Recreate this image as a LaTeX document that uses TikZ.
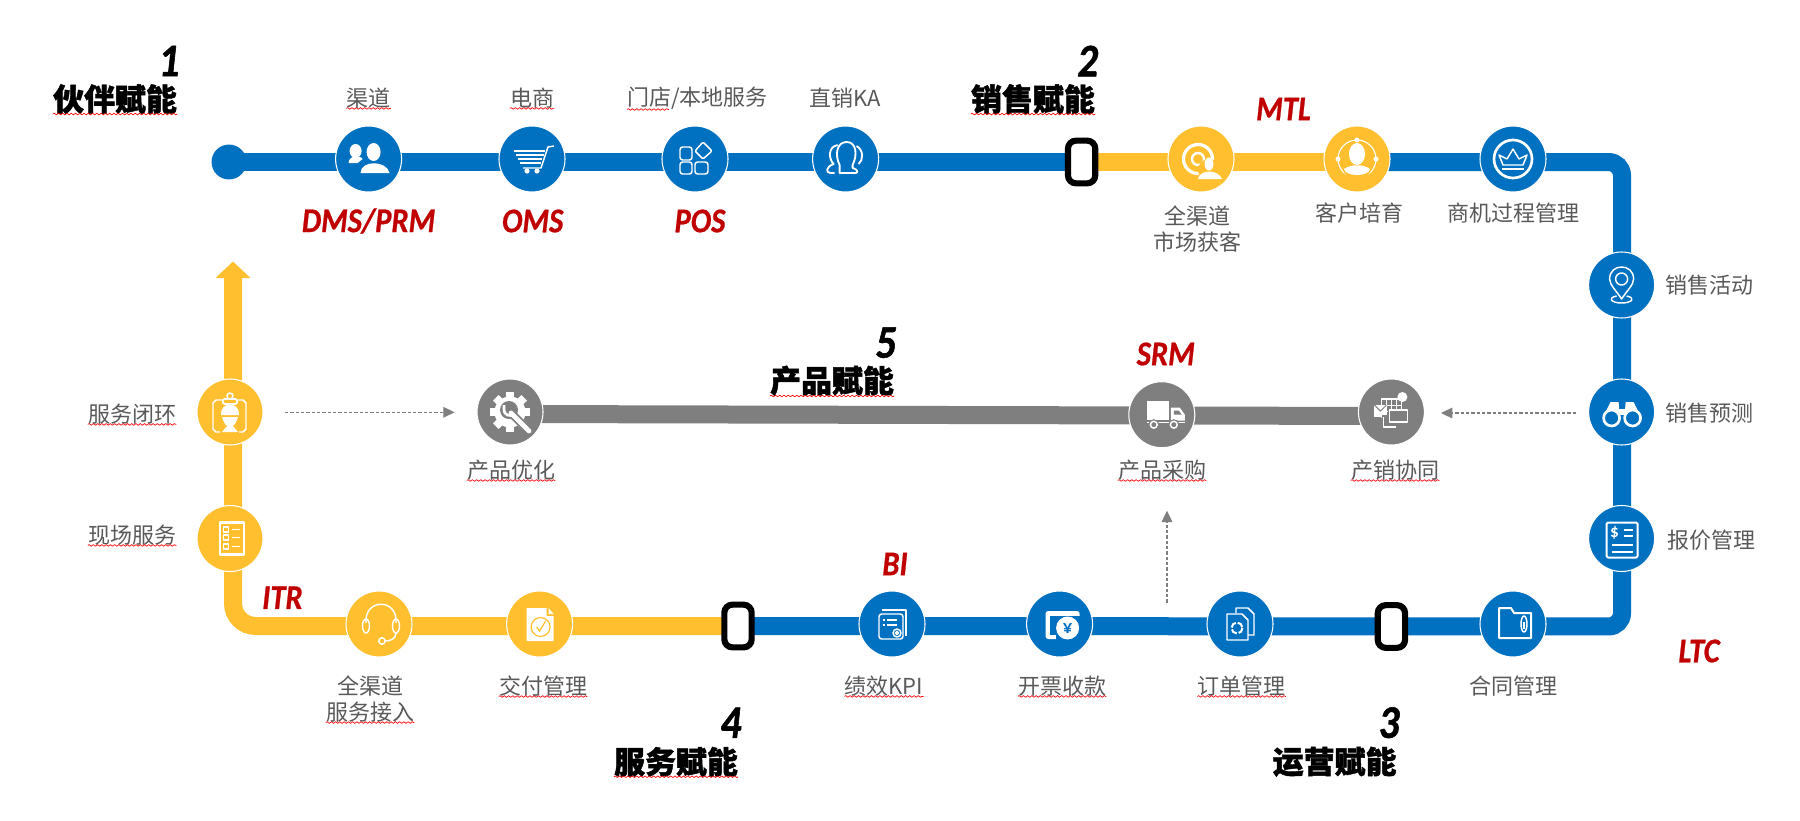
\documentclass[tikz,border=0pt]{standalone}
\usepackage{fontspec}
\usetikzlibrary{
	positioning
	,arrows.meta
	,decorations.pathmorphing
}
\newfontfamily\cjk{Noto Sans CJK SC}
\newfontfamily\cjkheavy{Noto Sans CJK SC}[BoldFeatures={FakeBold=1.4}]
\newfontfamily\latin{Carlito}
\newfontfamily\latintag{Carlito}[BoldItalicFeatures={FakeBold=.7,FakeStretch=.88}]
\newfontfamily\latinheavy{Carlito}[BoldItalicFeatures={FakeBold=1.2,FakeStretch=.88}]
\definecolor{lineblue}{HTML}{0070C0}
\definecolor{linegold}{HTML}{FFBF2F}
\definecolor{linegray}{HTML}{7F7F7F}
\definecolor{redtag}{HTML}{C00000}
\definecolor{textgray}{HTML}{595959}
\tikzset{
	stop/.style={
		circle,
		draw=white,
		line width=.8pt,
		inner sep=0pt,
		minimum size=49.5pt
	},
	blue stop/.style={stop, fill=lineblue},
	gold stop/.style={stop, fill=linegold},
	gray stop/.style={stop, fill=linegray},
	breaker/.style={
		draw=black,
		fill=white,
		line width=4.6pt,
		rounded corners=6pt,
		inner sep=0pt,
		minimum width=20.5pt,
		minimum height=32pt
	},
	caption/.style={
		font=\cjk\fontsize{16.5pt}{19.5pt}\selectfont,
		text=textgray,
		align=center,
		inner sep=0pt
	},
	head/.style={
		font=\cjkheavy\bfseries\fontsize{23.2pt}{26pt}\selectfont,
		inner sep=0pt
	},
	num/.style={
		font=\latinheavy\bfseries\itshape\fontsize{35pt}{36pt}\selectfont,
		inner sep=0pt
	},
	tag/.style={
		font=\latintag\bfseries\itshape\fontsize{26pt}{28pt}\selectfont,
		text=redtag,
		inner sep=0pt
	},
	band/.style={line width=13.5pt},
	hint/.style={
		linegray,
		line width=.8pt,
		dash pattern=on 2.5pt off 1.5pt,
		-{Triangle[width=8pt,length=8.5pt]}
	},
	spell/.style={
		red,
		line width=.5pt,
		decorate,
		decoration={snake,amplitude=.6pt,segment length=3.2pt}
	},
	icon/.style={draw=white, line width=1.1pt, line join=round},
	ico users/.pic={
		\fill[white] (5,-7) ellipse (7 and 9);
		\fill[white] (-8,14) .. controls (-8,1) and (18,1) .. (21,14) -- cycle;
		\fill[white] (-13,-8) ellipse (6 and 7);
		\fill[white] (-20,4) .. controls (-20,-4) and (-8,-4) .. (-6,0) -- (-11,4) -- cycle;
	},
	ico cart/.pic={
		\foreach \y/\a/\b in {-8/-18/13, -4/-16/12, 0/-14/10, 4/-12/9}{
			\draw[icon, line width=1.6pt] (\a,\y) -- (\b,\y);
		}
		\draw[icon] (22,-13) -- (16,-12) -- (9,9) -- (-9,9);
		\fill[white] (-5,12) circle (2.6) (5,12) circle (2.6);
	},
	ico blocks/.pic={
		\draw[icon, rounded corners=2pt] (-15,-12) rectangle (-3,1);
		\draw[icon, rounded corners=2pt] (-15,3) rectangle (-3,15);
		\draw[icon, rounded corners=2pt] (0,3) rectangle (13,15);
		\draw[icon, rounded corners=1pt] (8,-17) -- (17,-8) -- (8,0) -- (0,-8) -- cycle;
	},
	ico people/.pic={
		\draw[icon, line width=1.4pt] (-6,14) -- (-6,6) .. controls (-11,-4) and (-9,-17) .. (1,-17) .. controls (11,-17) and (12,-4) .. (7,6) -- (7,9)
			.. controls (12,10) and (13,14) .. (10,14) -- cycle;
		\draw[icon, line width=1.4pt] (-8,-14) .. controls (-18,-12) and (-17,0) .. (-12,5) .. controls (-20,8) and (-20,14) .. (-15,14) -- (-11,14);
		\draw[icon, line width=1.4pt] (11,-13) .. controls (18,-9) and (18,1) .. (13,5);
	},
	ico target/.pic={
		\draw[icon, line width=2.4pt] (-3,0) circle (14.5);
		\draw[icon, line width=1.8pt] (-3,0) circle (6);
		\fill[linegold] (8,11) circle (11);
		\fill[white] (8,5) ellipse (4.5 and 6.5);
		\fill[white] (-3,20) .. controls (-1,10) and (17,10) .. (21,20) -- cycle;
	},
	ico orbit/.pic={
		\draw[icon, line width=.8pt] (0,0) circle (19);
		\fill[linegold] (0,8) circle (14);
		\fill[white] (0,-5) ellipse (8 and 11);
		\fill[white] (-13,10) .. controls (-6,5) and (6,5) .. (13,10) .. controls (12,18) and (-12,18) .. (-13,10);
		\fill[white] (0,-19) circle (2.5) (-19,0) circle (2.5) (19,0) circle (2.5);
	},
	ico crown/.pic={
		\draw[icon, line width=2pt] (0,0) circle (19);
		\draw[icon] (-10,6) -- (-14,-4) -- (-6,0) -- (0,-10) -- (6,0) -- (14,-4) -- (10,6) -- cycle;
		\draw[icon] (-11,10) -- (11,10);
	},
	ico pin/.pic={
		\draw[icon] (0,14) .. controls (-5,6) and (-12,0) .. (-12,-6) .. controls (-12,-22) and (12,-22) .. (12,-6) .. controls (12,0) and (5,6) .. (0,14) -- cycle;
		\draw[icon] (0,-6) circle (6);
		\draw[icon] (-5,11) .. controls (-15,13) and (-10,18) .. (0,18) .. controls (10,18) and (15,13) .. (5,11);
	},
	ico binoc/.pic={
		\fill[white] (-18,4) -- (-11,-10) -- (-3,-10) -- (-2,4) -- cycle;
		\fill[white] (19,4) -- (12,-10) -- (4,-10) -- (3,4) -- cycle;
		\fill[white] (-3,-3) rectangle (4,3);
		\fill[lineblue] (-10,6) circle (9) (11,6) circle (9);
		\draw[icon, line width=2pt] (-10,6) circle (8) (11,6) circle (8);
	},
	ico quote/.pic={
		\draw[icon, line width=1.5pt, rounded corners=1pt] (-15,-16) rectangle (16,19);
		\node[inner sep=0pt, text=white, font=\latin\bfseries\fontsize{13pt}{13pt}\selectfont] (dollar) at (-7,-6) {\$};
		\draw[icon, line width=1.5pt] (2,-9) -- (11,-9) (2,-3) -- (11,-3) (-10,6) -- (11,6) (-10,13) -- (11,13);
	},
	ico folder/.pic={
		\draw[icon, line width=1.5pt] (-14,14) -- (-14,-16) -- (-2,-16) -- (1,-11) -- (18,-11) -- (18,14) -- cycle;
		\draw[icon] (11,0) ellipse (3 and 8);
		\draw[icon] (11,-2) -- (11,5);
	},
	ico docs/.pic={
		\draw[icon] (-4,-11) -- (-4,-16) -- (8,-16) -- (14,-10) -- (14,11) -- (8,11);
		\draw[icon] (-13,-10) -- (2,-10) -- (8,-4) -- (8,16) -- (-13,16) -- cycle;
		\draw[icon, line width=1.5pt, dash pattern=on 5pt off 1.5pt] (-3,4) circle (5.5);
	},
	ico wallet/.pic={
		\fill[white, rounded corners=2pt] (-14,-13) rectangle (20,15);
		\fill[lineblue] (-10,-8) rectangle (21,11);
		\fill[lineblue] (-4,11) rectangle (21,16);
		\fill[white] (8,4) circle (11.5);
		\node[inner sep=0pt, text=lineblue, font=\latin\bfseries\fontsize{14pt}{14pt}\selectfont] (yen) at (8,4) {¥};
	},
	ico kpi/.pic={
		\draw[icon, rounded corners=2pt] (-13,-10) rectangle (11,15);
		\draw[icon] (-10,-14) -- (14,-14) -- (14,12);
		\draw[icon] (-9,-4) -- (-7,-4) (-5,-4) -- (5,-4) (-9,1) -- (-7,1) (-5,1) -- (5,1);
		\draw[icon] (5,9) circle (4) (5,9) circle (1.5);
	},
	ico check/.pic={
		\fill[white] (-13,-16) -- (7,-16) -- (7,-8) -- (14,-8) -- (14,17) -- (-13,17) -- cycle;
		\fill[white] (9,-16) -- (14,-10) -- (9,-10) -- cycle;
		\draw[linegold, line width=.9pt] (1,3) circle (9.5);
		\draw[linegold, line width=.9pt] (-3,3) -- (0,7) -- (6,-3);
	},
	ico headset/.pic={
		\draw[icon] (-13,-1) .. controls (-15,-26) and (19,-26) .. (17,-1);
		\draw[icon] (-13,2) ellipse (3.5 and 7) (17,2) ellipse (3.5 and 7);
		\draw[icon] (17,9) .. controls (17,15) and (11,17) .. (6,17);
		\draw[icon] (3,17) circle (3.2);
	},
	ico list/.pic={
		\draw[icon, line width=1.7pt] (-10,-16) rectangle (14,16);
		\foreach \y in {-9,-1,8}{
			\draw[icon, line width=.9pt] (-6.5,\y-2.5) rectangle (-1.5,\y+2.5);
			\draw[icon, line width=1.4pt] (2,\y) -- (10,\y);
		}
	},
	ico worker/.pic={
		\draw[icon] (-8,-12) -- (-14,-12) -- (-17,-9) -- (-17,17) -- (-14,20) -- (-10,20);
		\draw[icon] (8,-12) -- (13,-12) -- (16,-9) -- (16,17) -- (13,20) -- (9,20);
		\draw[icon, line width=1.4pt, rounded corners=1pt] (-7,-13) rectangle (7,-8);
		\draw[icon, line width=1.2pt] (0,-16) circle (3);
		\fill[white] (-9,3) .. controls (-9,-6) and (-4,-6) .. (-3,-7) -- (3,-7) .. controls (4,-6) and (9,-6) .. (9,3) -- cycle;
		\fill[white] (-8,5) .. controls (-5,14) and (-3,14) .. (-2,14) -- (2,14) .. controls (3,14) and (5,14) .. (8,5) -- cycle;
		\fill[white] (-8,20) -- (-3,14) -- (3,14) -- (8,20) -- cycle;
	},
	ico gear/.pic={
		\foreach \a in {0,45,...,315}{
			\fill[white, rotate=\a] (-4,-20) rectangle (4,-13);
		}
		\fill[white] (0,0) circle (15.5);
		\fill[linegray] (-1,-2) circle (9);
		\draw[linegray, line width=6.2pt] (1,1) -- (19,19);
		\draw[white, line width=3.6pt, line cap=round] (1,1) -- (19,19);
		\draw[white, line width=2pt] (-6,-3) .. controls (-6,4) and (0,4) .. (3,3) (-6,-3) -- (-6,-7);
	},
	ico truck/.pic={
		\fill[white] (-15,-14) rectangle (7,5);
		\fill[white] (9,-7) -- (18,-7) -- (23,0) -- (23,6) -- (9,6) -- cycle;
		\fill[linegray] (12,-4) -- (17,-4) -- (20,0) -- (12,0) -- cycle;
		\fill[white] (-15,7) rectangle (23,8.5);
		\fill[linegray] (-8,10) circle (5.5) (12,10) circle (5.5);
		\draw[icon] (-8,10) circle (3.4) (12,10) circle (3.4);
	},
	ico grid/.pic={
		\draw[icon] (-10,-13) rectangle (10,5);
		\foreach \x in {-5,0,5}{
			\draw[icon, line width=.7pt] (\x,-13) -- (\x,5);
		}
		\draw[icon, line width=.7pt] (-10,-7) -- (10,-7) (-10,-1) -- (10,-1);
		\fill[white] (11,-15) circle (5);
		\fill[white] (-17,-7) rectangle (-5,5);
		\draw[linegray, line width=.7pt] (-17,-7) -- (-11,-1) -- (-5,-7);
		\fill[linegray] (-9,3) rectangle (5,16);
		\draw[icon] (-8,5) -- (-8,15) -- (5,15);
		\fill[linegray] (-3,-3) rectangle (17,11);
		\draw[icon, line width=1.2pt] (-2,-2) rectangle (16,10);
	}
}
\begin{document}
\begin{tikzpicture}[x=.75pt, y=-.75pt]
\useasboundingbox (0,0) rectangle (1800,821);

\node[circle, fill=lineblue, inner sep=0pt, minimum size=26.2pt] (begin) at (229,162){};

\coordinate (cutA) at (1081.6,162);
\coordinate (cutB) at (1391.4,626.5);
\coordinate (cutC) at (738,626);
\coordinate (joinA) at (1357,162);
\coordinate (turnA) at (1622,162);
\coordinate (turnB) at (1622,626.5);
\coordinate (turnC) at (233,626);
\coordinate (tipA) at (233,261.5);
\coordinate (grayA) at (510,414);
\coordinate (grayB) at (1391,416);

\draw[band, lineblue] (begin.center) -- (cutA);
\draw[band, linegold] (cutA) -- (joinA);
\draw[band, lineblue, rounded corners=10pt] (joinA) -- (turnA) -- (turnB) -- (cutC);
\draw[band, linegold, rounded corners=17pt, -{Triangle[width=25.5pt,length=12.4pt]}] (cutC) -- (turnC) -- (tipA);
\draw[band, linegray] (grayA) -- (grayB);

\node[breaker] (brkA) at (cutA){};
\node[breaker] (brkB) at (cutB){};
\node[breaker] (brkC) at (cutC){};

\node[blue stop] (dms) at (368.6,159){};
\node[blue stop] (oms) at (532,159){};
\node[blue stop] (pos) at (695,159){};
\node[blue stop] (ka) at (845.6,159){};
\node[gold stop] (gain) at (1201,159){};
\node[gold stop] (nurture) at (1357,159){};
\node[blue stop] (chance) at (1513,159){};
\node[blue stop] (act) at (1621.6,285){};
\node[blue stop] (fcst) at (1621.6,412){};
\node[blue stop] (quote) at (1621.6,538.5){};
\node[blue stop] (contract) at (1513,624){};
\node[blue stop] (order) at (1240,624){};
\node[blue stop] (bill) at (1059.6,624){};
\node[blue stop] (perf) at (892,624){};
\node[gold stop] (deliver) at (539.6,624){};
\node[gold stop] (access) at (379,624){};
\node[gold stop] (field) at (230,538.5){};
\node[gold stop] (close) at (230,412){};
\node[gray stop] (optim) at (510,412){};
\node[gray stop] (buy) at (1161.8,414.7){};
\node[gray stop] (sync) at (1391.4,412){};

\pic at (dms) {ico users};
\pic at (oms) {ico cart};
\pic at (pos) {ico blocks};
\pic at (ka) {ico people};
\pic at (gain) {ico target};
\pic at (nurture) {ico orbit};
\pic at (chance) {ico crown};
\pic at (act) {ico pin};
\pic at (fcst) {ico binoc};
\pic at (quote) {ico quote};
\pic at (contract) {ico folder};
\pic at (order) {ico docs};
\pic at (bill) {ico wallet};
\pic at (perf) {ico kpi};
\pic at (deliver) {ico check};
\pic at (access) {ico headset};
\pic at (field) {ico list};
\pic at (close) {ico worker};
\pic at (optim) {ico gear};
\pic at (buy) {ico truck};
\pic at (sync) {ico grid};

\node[num] (n1) at (169,61){1};
\node[num] (n2) at (1087.7,61){2};
\node[num] (n3) at (1389,722.7){3};
\node[num] (n4) at (730.8,722.7){4};
\node[num] (n5) at (885.8,342.7){5};

\node[head] (h1) at (115,99){伙伴赋能};
\node[head] (h2) at (1033,99){销售赋能};
\node[head] (h3) at (1334.6,761.7){运营赋能};
\node[head] (h4) at (676,761.7){服务赋能};
\node[head] (h5) at (832,380.7){产品赋能};

\node[tag] (t1) at (368.6,221){DMS/PRM};
\node[tag] (t2) at (532.7,221){OMS};
\node[tag] (t3) at (700,221){POS};
\node[tag] (t4) at (1283.5,109){MTL};
\node[tag] (t5) at (1699,651){LTC};
\node[tag] (t6) at (895,564){BI};
\node[tag] (t7) at (282.4,597.7){ITR};
\node[tag] (t8) at (1165.8,354){SRM};

\node[caption] (c1) at (368.6,98){渠道};
\node[caption] (c2) at (532,98){电商};
\node[caption] (c3) at (697.5,98){门店/本地服务};
\node[caption] (c4) at (845.6,98){直销KA};
\node[caption] (c5) at (1197,229.5){全渠道\\市场获客};
\node[caption] (c6) at (1359,213){客户培育};
\node[caption] (c7) at (1513,213){商机过程管理};
\node[caption] (c8) at (1709.4,285){销售活动};
\node[caption] (c9) at (1709.4,412.7){销售预测};
\node[caption] (c10) at (1711,540){报价管理};
\node[caption] (c11) at (1513,686){合同管理};
\node[caption] (c12) at (1241.6,686){订单管理};
\node[caption] (c13) at (1062,686){开票收款};
\node[caption] (c14) at (884,686){绩效KPI};
\node[caption] (c15) at (543,686){交付管理};
\node[caption] (c16) at (370,699){全渠道\\服务接入};
\node[caption] (c17) at (132,535){现场服务};
\node[caption] (c18) at (132,414){服务闭环};
\node[caption] (c19) at (511,470){产品优化};
\node[caption] (c20) at (1162,470){产品采购};
\node[caption] (c21) at (1395,470){产销协同};

\coordinate (hintA) at (285,412.3);
\coordinate (hintB) at (454.6,412.3);
\coordinate (hintC) at (1576,413);
\coordinate (hintD) at (1441,413);
\coordinate (hintE) at (1167,602.7);
\coordinate (hintF) at (1167,510.7);
\draw[hint] (hintA) -- (hintB);
\draw[hint] (hintC) -- (hintD);
\draw[hint] (hintE) -- (hintF);

\foreach \x in {%
h1, h2, h4, h5%
,c1, c2, c14, c13, c12, c15, c16, c17, c18, c19, c20, c21%
}{
	\draw[spell] (\x.south west) -- (\x.south east);
}
\draw[spell] (c3.south west) -- ++(42,0);
\end{tikzpicture}
\end{document}
